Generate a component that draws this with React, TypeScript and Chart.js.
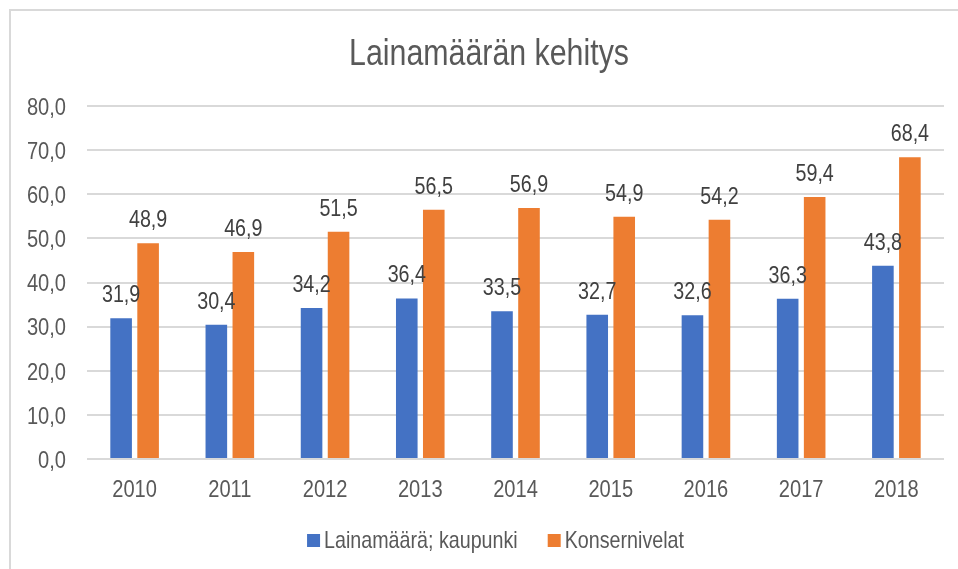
import React, { useEffect, useRef } from "react";
import { Chart, registerables } from "chart.js";

Chart.register(...registerables);

const title = "Lainamäärän kehitys";
const categories = ["2010", "2011", "2012", "2013", "2014", "2015", "2016", "2017", "2018"];
const seriesNames = ["Lainamäärä; kaupunki", "Konsernivelat"];
const cityLoans = [31.9, 30.4, 34.2, 36.4, 33.5, 32.7, 32.6, 36.3, 43.8];
const groupDebt = [48.9, 46.9, 51.5, 56.5, 56.9, 54.9, 54.2, 59.4, 68.4];
const colors = ["#4472C4", "#ED7D31"];
const yMin = 0;
const yMax = 80;
const yStep = 10;

const FONT = "'Liberation Sans', Arial, sans-serif";
const NARROW = 0.82;
const fmt = (v: number) => v.toFixed(1).replace(".", ",");

function drawNarrow(ctx: CanvasRenderingContext2D, text: string, x: number, y: number, size: number, align: CanvasTextAlign, color: string, baseline: CanvasTextBaseline = "alphabetic") {
  ctx.save();
  ctx.font = `${size}px ${FONT}`;
  ctx.fillStyle = color;
  ctx.textAlign = align;
  ctx.textBaseline = baseline;
  ctx.translate(x, y);
  ctx.scale(NARROW, 1);
  ctx.fillText(text, 0, 0);
  ctx.restore();
}

function narrowWidth(ctx: CanvasRenderingContext2D, text: string, size: number) {
  ctx.save();
  ctx.font = `${size}px ${FONT}`;
  const w = ctx.measureText(text).width * NARROW;
  ctx.restore();
  return w;
}

const overlayPlugin = {
  id: "overlay",
  afterDraw(chart: any) {
    const ctx: CanvasRenderingContext2D = chart.ctx;
    // Title
    drawNarrow(ctx, title, 489, 65, 37, "center", "#595959");

    // Axis labels
    const xs = chart.scales.x;
    const ys = chart.scales.y;
    ys.ticks.forEach((t: any) => {
      drawNarrow(ctx, fmt(Number(t.value)), 66, ys.getPixelForValue(t.value) + 8.8, 24.5, "right", "#595959");
    });
    categories.forEach((c, i) => {
      drawNarrow(ctx, c, xs.getPixelForValue(i), 497, 24.5, "center", "#595959");
    });

    // Data labels
    chart.data.datasets.forEach((ds: any, di: number) => {
      const meta = chart.getDatasetMeta(di);
      meta.data.forEach((el: any, i: number) => {
        drawNarrow(ctx, fmt(ds.data[i]), el.x, el.y - 16, 24, "center", "#404040");
      });
    });

    // Legend
    const box = 13;
    const gapText = 4;
    const gapItem = 30;
    const widths = chart.data.datasets.map((ds: any) => narrowWidth(ctx, ds.label, 24));
    let total = 0;
    widths.forEach((w: number, i: number) => {
      total += box + gapText + w + (i > 0 ? gapItem : 0);
    });
    let x = 495.5 - total / 2;
    chart.data.datasets.forEach((ds: any, i: number) => {
      ctx.save();
      ctx.fillStyle = ds.backgroundColor;
      ctx.fillRect(x, 534, box, box);
      ctx.restore();
      drawNarrow(ctx, ds.label, x + box + gapText, 548, 24, "left", "#595959");
      x += box + gapText + widths[i] + gapItem;
    });
  },
};

export default function App() {
  const ref = useRef<HTMLCanvasElement>(null);
  useEffect(() => {
    if (!ref.current) return;
    const chart = new Chart(ref.current, {
      type: "bar",
      data: {
        labels: categories,
        datasets: [
          { label: seriesNames[0], data: cityLoans, backgroundColor: colors[0], borderWidth: 0 },
          { label: seriesNames[1], data: groupDebt, backgroundColor: colors[1], borderWidth: 0 },
        ],
      },
      options: {
        responsive: false,
        animation: false,
        categoryPercentage: 0.567,
        barPercentage: 0.8,
        layout: { padding: { left: 0, right: 14, top: 106, bottom: 70 } },
        plugins: {
          legend: { display: false },
          title: { display: false },
          tooltip: { enabled: false },
        },
        scales: {
          x: {
            grid: { display: false, drawTicks: false },
            border: { display: false },
            ticks: { display: false },
            afterFit: (s: any) => { s.height = 40; },
          },
          y: {
            min: yMin,
            max: yMax,
            ticks: { stepSize: yStep, display: false },
            grid: { color: "#D9D9D9", lineWidth: 2, drawTicks: false },
            border: { display: false },
            afterFit: (s: any) => { s.width = 87; },
          },
        },
      },
      plugins: [overlayPlugin],
    });
    return () => chart.destroy();
  }, []);
  return (
    <div style={{ position: "fixed", left: 0, top: 0, width: 958, height: 569, overflow: "hidden", background: "#fff" }}>
      <div
        style={{
          position: "absolute",
          left: 9,
          top: 9,
          width: 1000,
          height: 600,
          borderTop: "2px solid #D9D9D9",
          borderLeft: "2px solid #D9D9D9",
        }}
      />
      <canvas ref={ref} width={958} height={569} style={{ position: "absolute", left: 0, top: 0, width: 958, height: 569 }} />
    </div>
  );
}
